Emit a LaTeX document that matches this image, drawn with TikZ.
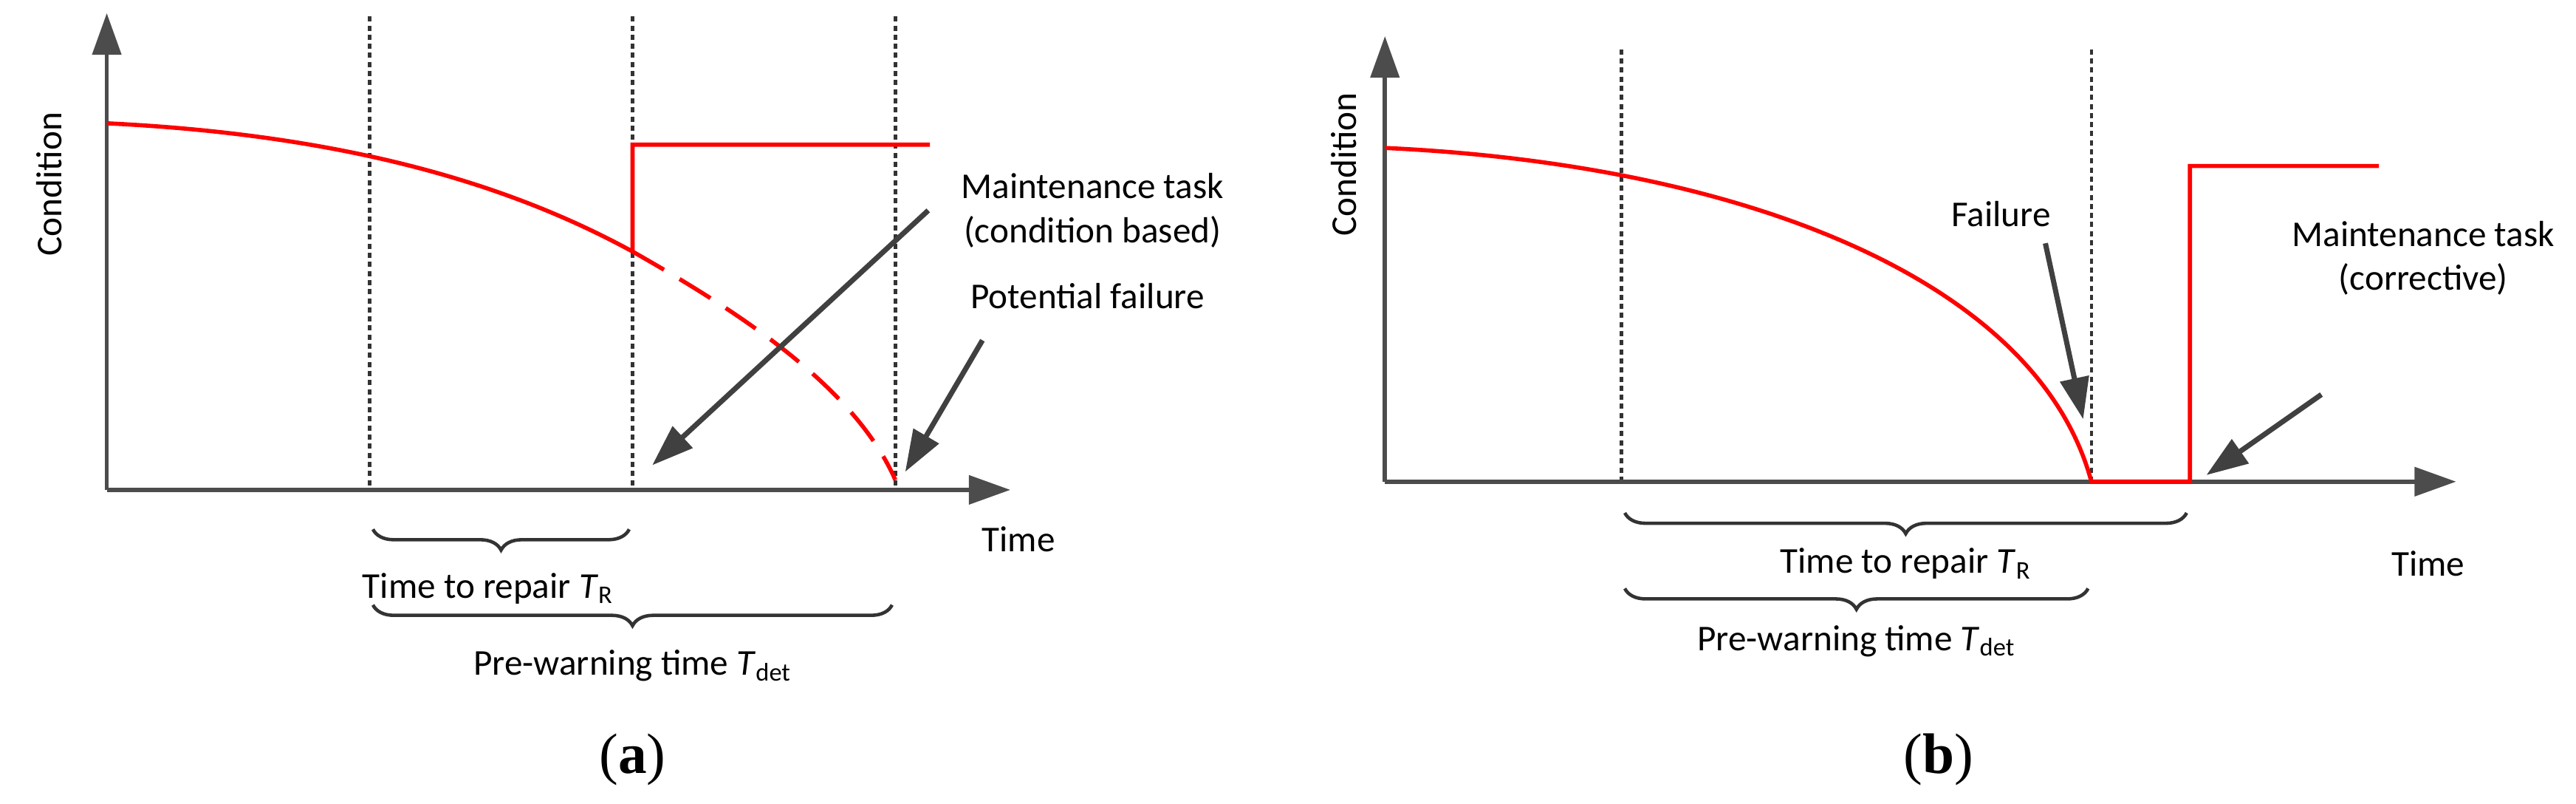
\documentclass[tikz,border=0pt]{standalone}
\usepackage{fontspec}
\setmainfont{Carlito}
\newfontfamily\capfont{Liberation Serif}
\usetikzlibrary{arrows.meta,decorations.pathreplacing}
\begin{document}
\begin{tikzpicture}[x={(0.022245cm,0)},y={(0,-0.022245cm)},
  axis/.style={line width=1.6pt,draw=black!70,-{Triangle[length=16pt,width=11pt]}},
  ptr/.style={line width=2pt,draw=black!75,-{Triangle[length=16pt,width=11pt]}},
  dot/.style={dash pattern=on 2pt off 1.5pt,line width=1.3pt,black!80},
  red1/.style={line width=1.6pt,red},
  brc/.style={decorate,decoration={brace,mirror,amplitude=8pt},line width=1.3pt,black!80},
  lab/.style={font=\fontsize{14}{17}\selectfont,inner sep=1pt},
  captxt/.style={font=\capfont\fontsize{22}{26}\selectfont}]
\useasboundingbox (0,0) rectangle (1568,489);
% ---------- (a)
\coordinate (ao) at (65,298);
\coordinate (ay) at (65,8);
\coordinate (ax) at (615,298);
\draw[dot] (225,10) -- (225,298);
\draw[dot] (385,10) -- (385,298);
\draw[dot] (545,10) -- (545,298);
\draw[axis] (ao) -- (ay);
\draw[axis] (ao) -- (ax);
\coordinate (a0) at (65,75);
\coordinate (a1) at (385,153);
\coordinate (a2) at (545,292);
\draw[red1] (a0) .. controls (210,82) and (310,112) .. (a1) -- (385,88) -- (566,88);
\draw[red1,dash pattern=on 14pt off 7pt] (a1) .. controls (450,190) and (520,235) .. (a2);
\node[lab,rotate=90] (acond) at (30,112) {Condition};
\node[lab] (atime) at (620,328) {Time};
\node[lab,align=center] (amt) at (665,128) {Maintenance task\\(condition based)};
\node[lab] (apf) at (662,180) {Potential failure};
\coordinate (am1) at (565,128);
\coordinate (am2) at (397,283);
\draw[ptr] (am1) -- (am2);
\coordinate (ap1) at (598,207);
\coordinate (ap2) at (551,287);
\draw[ptr] (ap1) -- (ap2);
\draw[brc] (227,322) -- (383,322);
\node[lab] (atr) at (297,358) {Time to repair \textit{T}\textsubscript{R}};
\draw[brc] (227,368) -- (543,368);
\node[lab] (apw) at (385,405) {Pre-warning time \textit{T}\textsubscript{det}};
\node[captxt] (ca) at (385,462) {(\textbf{a})};
% ---------- (b)
\coordinate (bo) at (843,293);
\coordinate (by) at (843,22);
\coordinate (bx) at (1495,293);
\draw[dot] (987,30) -- (987,293);
\draw[dot] (1273,30) -- (1273,293);
\draw[axis] (bo) -- (by);
\draw[axis] (bo) -- (bx);
\coordinate (b0) at (843,90);
\coordinate (b1) at (1273,293);
\draw[red1] (b0) .. controls (1060,100) and (1240,170) .. (b1) -- (1333,293) -- (1333,101) -- (1448,101);
\node[lab,rotate=90] (bcond) at (818,100) {Condition};
\node[lab] (btime) at (1478,343) {Time};
\node[lab] (bfail) at (1218,130) {Failure};
\coordinate (bf1) at (1245,148);
\coordinate (bf2) at (1268,255);
\draw[ptr] (bf1) -- (bf2);
\node[lab,align=center] (bmt) at (1475,157) {Maintenance task\\(corrective)};
\coordinate (bm1) at (1413,240);
\coordinate (bm2) at (1343,289);
\draw[ptr] (bm1) -- (bm2);
\draw[brc] (989,312) -- (1331,312);
\node[lab] (btr) at (1160,343) {Time to repair \textit{T}\textsubscript{R}};
\draw[brc] (989,358) -- (1271,358);
\node[lab] (bpw) at (1130,390) {Pre-warning time \textit{T}\textsubscript{det}};
\node[captxt] (cb) at (1180,462) {(\textbf{b})};
\end{tikzpicture}
\end{document}
